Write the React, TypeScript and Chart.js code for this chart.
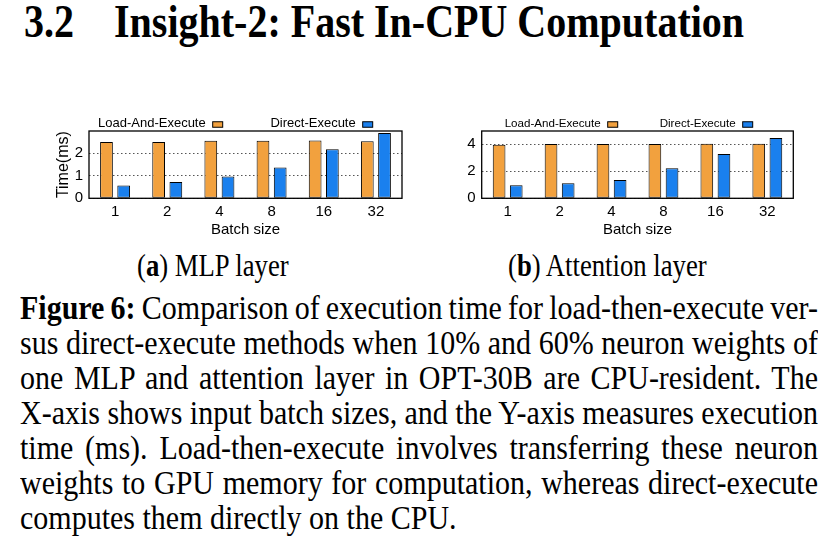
import React, { useEffect, useLayoutEffect, useRef } from "react";
import { Chart, registerables } from "chart.js";

Chart.register(...registerables);

// ---------- data ----------
const BATCH_SIZES = ["1", "2", "4", "8", "16", "32"];
const SERIES_NAMES = ["Load-And-Execute", "Direct-Execute"];
const MLP_LOAD = [2.5, 2.5, 2.56, 2.56, 2.57, 2.53];
const MLP_DIRECT = [0.57, 0.72, 0.97, 1.37, 2.18, 2.9];
const ATTN_LOAD = [3.95, 4.0, 4.0, 4.0, 4.02, 4.02];
const ATTN_DIRECT = [0.96, 1.1, 1.35, 2.21, 3.26, 4.44];
const MLP_Y_TICKS = [0, 1, 2];
const ATTN_Y_TICKS = [0, 2, 4];
const MLP_Y_MAX = 2.99;
const ATTN_Y_MAX = 4.96;
const Y_TITLE = "Time(ms)";
const X_TITLE = "Batch size";

const HEADING_NUM = "3.2";
const HEADING_TEXT = "Insight-2: Fast In-CPU Computation";
const BODY_LINES = [
  "Comparison of execution time for load-then-execute ver-",
  "sus direct-execute methods when 10% and 60% neuron weights of",
  "one MLP and attention layer in OPT-30B are CPU-resident. The",
  "X-axis shows input batch sizes, and the Y-axis measures execution",
  "time (ms). Load-then-execute involves transferring these neuron",
  "weights to GPU memory for computation, whereas direct-execute",
  "computes them directly on the CPU.",
];

// ---------- styles ----------
const ORANGE = "#F2A13E";
const BLUE = "#1A80EE";
const SANS = "'Liberation Sans', Arial, Helvetica, sans-serif";
const SERIF = "'Liberation Serif', 'Times New Roman', Times, serif";
const TEXT_STRETCH = 1.15;

const framePlugin = {
  id: "gnuFrame",
  afterDatasetsDraw(chart: any) {
    const { ctx, chartArea } = chart;
    const { left, top, right, bottom } = chartArea;
    ctx.save();
    ctx.strokeStyle = "#000";
    ctx.lineWidth = 1.3;
    ctx.strokeRect(left, top, right - left, bottom - top);
    ctx.restore();
  },
};

const legendPlugin = {
  id: "gnuLegend",
  afterDraw(chart: any, _args: any, opts: any) {
    if (!opts || !opts.offsets) return;
    const { ctx, chartArea } = chart;
    ctx.save();
    ctx.font = `${opts.fontSize}px ${SANS}`;
    ctx.textAlign = "right";
    ctx.textBaseline = "middle";
    const cy = chartArea.top + opts.dy;
    chart.data.datasets.forEach((ds: any, i: number) => {
      const bx = chartArea.left + opts.offsets[i];
      ctx.fillStyle = "#000";
      ctx.fillText(ds.label, bx - opts.gap, cy - 1);
      ctx.fillStyle = ds.backgroundColor;
      ctx.fillRect(bx, cy - opts.boxH / 2, opts.boxW, opts.boxH);
      ctx.strokeStyle = "#000";
      ctx.lineWidth = 1;
      ctx.strokeRect(bx, cy - opts.boxH / 2, opts.boxW, opts.boxH);
    });
    ctx.restore();
  },
};

type PanelProps = {
  load: number[];
  direct: number[];
  yTicks: number[];
  yMax: number;
  yTitle?: string;
  left: number;
  top: number;
  width: number;
  height: number;
  yAxisWidth: number;
  xAxisHeight: number;
  padTop: number;
  padRight: number;
  legendFont: number;
  legendOffsets: number[];
};

function Panel(p: PanelProps) {
  const ref = useRef<HTMLCanvasElement>(null);
  useEffect(() => {
    if (!ref.current) return;
    const chart = new Chart(ref.current, {
      type: "bar",
      data: {
        labels: BATCH_SIZES,
        datasets: [
          {
            label: SERIES_NAMES[0],
            data: p.load,
            backgroundColor: ORANGE,
            borderColor: "#000",
            borderWidth: 1,
            borderSkipped: false,
            categoryPercentage: 0.66,
            barPercentage: 0.74,
          },
          {
            label: SERIES_NAMES[1],
            data: p.direct,
            backgroundColor: BLUE,
            borderColor: "#000",
            borderWidth: 1,
            borderSkipped: false,
            categoryPercentage: 0.66,
            barPercentage: 0.74,
          },
        ],
      },
      options: {
        responsive: false,
        animation: false,
        layout: { padding: { top: p.padTop, right: p.padRight, left: 0, bottom: 0 } },
        plugins: {
          legend: { display: false },
          tooltip: { enabled: false },
          gnuLegend: {
            fontSize: p.legendFont,
            offsets: p.legendOffsets,
            dy: -6.5,
            gap: 7,
            boxW: 10,
            boxH: 5.5,
          },
        } as any,
        scales: {
          x: {
            grid: { display: false, drawTicks: false },
            border: { display: false },
            ticks: { color: "#000", font: { family: SANS, size: 15 }, padding: 5 },
            title: {
              display: true,
              text: X_TITLE,
              color: "#000",
              font: { family: SANS, size: 15 },
              padding: { top: 0, bottom: 3.5 },
            },
            afterFit: (s: any) => {
              s.height = p.xAxisHeight;
            },
          },
          y: {
            min: 0,
            max: p.yMax,
            grid: { color: "#555", lineWidth: 1, drawTicks: false },
            border: { display: false, dash: [1.5, 2.5] },
            ticks: { color: "#000", font: { family: SANS, size: 15 }, padding: 6 },
            afterBuildTicks: (s: any) => {
              s.ticks = p.yTicks.map((v) => ({ value: v }));
            },
            title: {
              display: !!p.yTitle,
              text: p.yTitle || "",
              color: "#000",
              font: { family: SANS, size: 16 },
              padding: { top: 4, bottom: 0 },
            },
            afterFit: (s: any) => {
              s.width = p.yAxisWidth;
            },
          },
        },
      },
      plugins: [framePlugin, legendPlugin],
    });
    return () => chart.destroy();
  }, []);
  return (
    <canvas
      ref={ref}
      width={p.width}
      height={p.height}
      style={{ position: "absolute", left: p.left, top: p.top, width: p.width, height: p.height }}
    />
  );
}

function TextLine(props: {
  x: number;
  baseline: number;
  size: number;
  width?: number;
  bold?: boolean;
  children: React.ReactNode;
}) {
  const ref = useRef<HTMLDivElement>(null);
  useLayoutEffect(() => {
    const el = ref.current;
    if (!el || !props.width) return;
    el.style.wordSpacing = "0px";
    const natural = el.getBoundingClientRect().width;
    const spaces = ((el.textContent || "").match(/ /g) || []).length;
    if (spaces > 0) el.style.wordSpacing = `${(props.width - natural) / spaces}px`;
  });
  const asc = 0.8375 * props.size;
  const top = props.baseline - asc;
  return (
    <div
      ref={ref}
      style={{
        position: "absolute",
        left: props.x,
        top,
        fontFamily: SERIF,
        fontSize: props.size,
        lineHeight: 1,
        fontWeight: props.bold ? "bold" : "normal",
        whiteSpace: "pre",
        color: "#000",
        transform: `scaleY(${TEXT_STRETCH})`,
        transformOrigin: `0px ${asc}px`,
      }}
    >
      {props.children}
    </div>
  );
}

export default function App() {
  const bodyX = 20;
  const bodyW = 798;
  const firstBase = 319;
  const pitch = 35;
  return (
    <div
      style={{
        position: "absolute",
        left: 0,
        top: 0,
        width: 834,
        height: 547,
        background: "#fff",
        overflow: "hidden",
      }}
    >
      <TextLine x={24} baseline={37} size={40} bold>
        {HEADING_NUM}
      </TextLine>
      <TextLine x={114} baseline={37} size={40} bold>
        {HEADING_TEXT}
      </TextLine>

      <Panel
        load={MLP_LOAD}
        direct={MLP_DIRECT}
        yTicks={MLP_Y_TICKS}
        yMax={MLP_Y_MAX}
        yTitle={Y_TITLE}
        left={50}
        top={110}
        width={362}
        height={132}
        yAxisWidth={39}
        xAxisHeight={43.7}
        padTop={21}
        padRight={10}
        legendFont={13}
        legendOffsets={[123.7, 273.7]}
      />
      <Panel
        load={ATTN_LOAD}
        direct={ATTN_DIRECT}
        yTicks={ATTN_Y_TICKS}
        yMax={ATTN_Y_MAX}
        left={445}
        top={110}
        width={359}
        height={132}
        yAxisWidth={36.7}
        xAxisHeight={43.7}
        padTop={21}
        padRight={10.7}
        legendFont={11.6}
        legendOffsets={[126, 261]}
      />

      <TextLine x={137} baseline={276} size={26.7}>
        (<b>a</b>) MLP layer
      </TextLine>
      <TextLine x={508} baseline={276} size={26.7}>
        (<b>b</b>) Attention layer
      </TextLine>

      {BODY_LINES.map((line, i) => (
        <TextLine
          key={i}
          x={bodyX}
          baseline={firstBase + i * pitch}
          size={30}
          width={i < BODY_LINES.length - 1 ? bodyW : undefined}
        >
          {i === 0 ? (
            <>
              <b>Figure 6:</b> {line}
            </>
          ) : (
            line
          )}
        </TextLine>
      ))}
    </div>
  );
}
